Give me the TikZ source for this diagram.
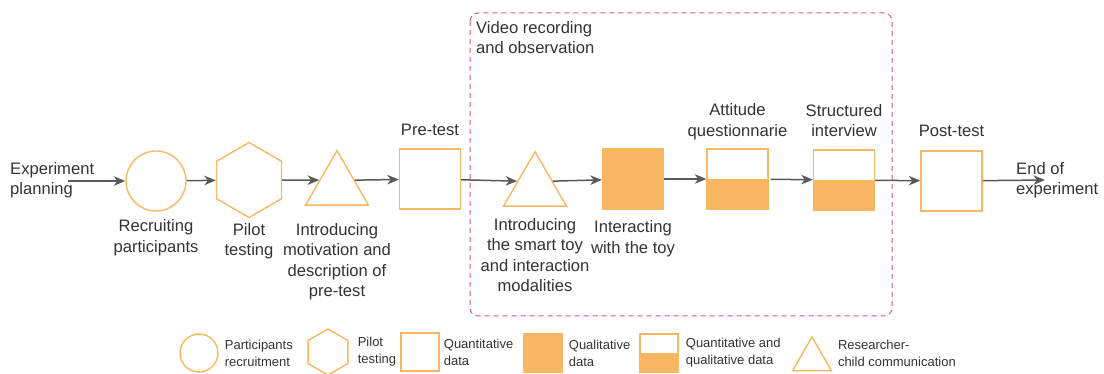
\documentclass[tikz,border=0pt]{standalone}
\usepackage{fontspec}
\setmainfont{Liberation Sans}
\usepackage{xcolor}
\usepackage{tikz}
\usetikzlibrary{arrows.meta,positioning,shapes.geometric}
\definecolor{toyorange}{HTML}{FAB763}
\definecolor{txtgray}{HTML}{333333}
\definecolor{arrgray}{HTML}{595959}
\definecolor{videopink}{HTML}{D9567F}

\begin{document}
\begin{tikzpicture}[
  x=1pt, y=-1pt,
  shp/.style={draw=toyorange, line width=1.4pt, inner sep=0pt},
  recruit/.style={shp, circle, minimum size=60pt},
  pilot/.style={shp, regular polygon, regular polygon sides=6, shape border rotate=30, minimum size=75pt},
  talk/.style={shp, regular polygon, regular polygon sides=3, minimum size=72.7pt},
  quant/.style={shp, rectangle, minimum width=61pt, minimum height=60pt},
  qual/.style={quant, fill=toyorange},
  mixed/.style={quant, path picture={\fill[toyorange] (path picture bounding box.west) rectangle (path picture bounding box.south east);}},
  lbl/.style={align=center, text=txtgray, inner sep=0pt, font=\fontsize{16.6}{20.5}\selectfont},
  key/.style={align=left, text=txtgray, inner sep=0pt, font=\fontsize{13}{17}\selectfont},
  video/.style={draw=videopink, line width=1pt, dash pattern=on 5pt off 4pt, rounded corners=8pt},
  arr/.style={-{Stealth[length=11.5pt,width=9.5pt,inset=3.5pt]}, line width=1.5pt, draw=arrgray}
]
\useasboundingbox (0,0) rectangle (1104,374);

% observation frame
\draw[video] (470,13) rectangle (892,316);
\node[lbl, align=left, anchor=north west] (videolbl) at (476,21) {Video recording\\and observation};

% main flow
\node[lbl, align=left, anchor=west] (plan) at (10,180) {Experiment\\planning};
\coordinate (start) at (68,181);
\node[recruit] (recruit) at (156,181) {};
\node[pilot] (pilot) at (249,180) {};
\node[talk] (intro) at (337,187) {};
\node[quant] (pretest) at (430,179) {};
\node[talk] (toyintro) at (535,188) {};
\node[qual] (play) at (633,179) {};
\node[mixed] (attitude) at (737.5,179) {};
\node[mixed] (interview) at (844,180) {};
\node[quant] (posttest) at (951.5,181) {};
\node[lbl, align=left, anchor=west] (finishlbl) at (1016,180) {End of\\experiment};
\coordinate (finish) at (1045,180);

\node[lbl, below=8pt of recruit] (recruitlbl) {Recruiting\\participants};
\node[lbl, below=4.5pt of pilot] (pilotlbl) {Pilot\\testing};
\node[lbl, below=17pt of intro] (introlbl) {Introducing\\motivation and\\description of\\pre-test};
\node[lbl, above=12pt of pretest] (pretestlbl) {Pre-test};
\node[lbl, below=11pt of toyintro] (toyintrolbl) {Introducing\\the smart toy\\and interaction\\modalities};
\node[lbl, below=11pt of play] (playlbl) {Interacting\\with the toy};
\node[lbl, above=8.5pt of attitude] (attitudelbl) {Attitude\\questionnarie};
\node[lbl, above=12pt of interview] (interviewlbl) {Structured\\interview};
\node[lbl, above=13pt of posttest] (posttestlbl) {Post-test};

\draw[arr] (start) -- (recruit);
\draw[arr] (recruit) -- (pilot);
\draw[arr] (pilot) -- (intro.159);
\draw[arr] (intro.21) -- (pretest);
\draw[arr] (pretest) -- (toyintro.159);
\draw[arr] (toyintro.21) -- (play);
\draw[arr] (play) -- (attitude);
\draw[arr, shorten <=2pt] (attitude) -- (interview);
\draw[arr] (interview) -- (posttest);
\draw[arr] (posttest) -- (finish);

% legend
\node[recruit, minimum size=38pt] (keyrecruit) at (199,353) {};
\node[key, right=6pt of keyrecruit] (keyrecruitlbl) {Participants\\recruitment};
\node[pilot, minimum size=46pt] (keypilot) at (328,352) {};
\node[key, right=9pt of keypilot] (keypilotlbl) {Pilot\\testing};
\node[quant, minimum width=38pt, minimum height=38pt] (keyquant) at (420,352) {};
\node[key, right=4pt of keyquant] (keyquantlbl) {Quantitative\\data};
\node[qual, minimum width=38pt, minimum height=38pt] (keyqual) at (543,353) {};
\node[key, right=6pt of keyqual] (keyquallbl) {Qualitative\\data};
\node[mixed, minimum width=38pt, minimum height=38pt] (keymixed) at (659,353) {};
\node[key, right=7pt of keymixed] (keymixedlbl) {Quantitative and\\qualitative data};
\node[talk, minimum size=45pt] (keytalk) at (812,359.5) {};
\node[key, right=12pt of keytalk, yshift=6.5pt] (keytalklbl) {Researcher-\\child communication};
\end{tikzpicture}
\end{document}
